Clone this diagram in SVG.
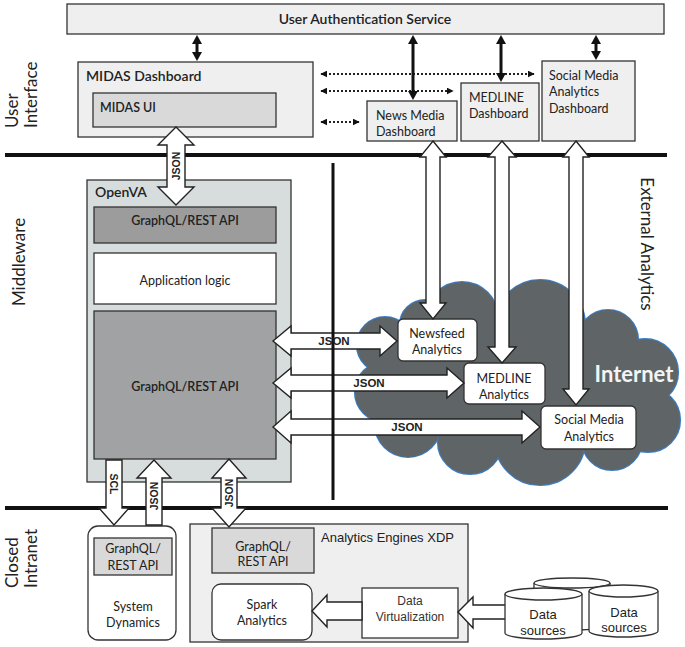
<svg xmlns="http://www.w3.org/2000/svg" xmlns:xlink="http://www.w3.org/1999/xlink" width="685" height="647" viewBox="0 0 685 647">
<style>
text{font-family:Lato,"Open Sans","Noto Sans",sans-serif;fill:#222}
.t12{font-size:12.5px}
.sb{font-weight:600}
.ar{font-family:"Liberation Sans",Arial,sans-serif}
.side{font-size:17px}
.json{font-size:10.5px;font-weight:bold;font-family:"Liberation Sans",Arial,sans-serif}
.jh{font-size:11.5px}
.box{stroke:#333;stroke-width:1.3}
.lt{fill:#efefef}
.mid{fill:#d9d9d9}
.blk{fill:#fff;stroke:#222;stroke-width:1.4;stroke-linejoin:miter}
.dot{stroke:#222;stroke-width:2;stroke-dasharray:2 2;fill:none}
.sol{stroke:#111;stroke-width:3;fill:none}
.tri{fill:#111}
.bar{stroke:#111;stroke-width:4}
</style>
<defs>
<marker id="hd" viewBox="0 0 10 10" refX="9" refY="5" markerWidth="3.5" markerHeight="3.5" orient="auto-start-reverse" markerUnits="strokeWidth"><path d="M0,0 L10,5 L0,10 z" fill="#111"/></marker>
<g id="cloudShape">
<circle cx="385" cy="345" r="28"/><circle cx="425" cy="325" r="25"/><circle cx="462" cy="318" r="36"/>
<circle cx="540" cy="325" r="45"/><circle cx="608" cy="340" r="30"/><circle cx="645" cy="372" r="33"/>
<circle cx="648" cy="420" r="32"/><circle cx="612" cy="440" r="30"/><circle cx="540" cy="440" r="45"/>
<circle cx="470" cy="442" r="32"/><circle cx="408" cy="424" r="33"/><circle cx="385" cy="392" r="30"/>
<circle cx="520" cy="380" r="75"/><circle cx="590" cy="390" r="50"/><circle cx="440" cy="380" r="45"/>
</g>
</defs>
<rect width="685" height="647" fill="#fff"/>

<!-- layer separators -->
<g id="separators">
<line class="bar" x1="5" y1="155" x2="667" y2="155"/>
<line class="bar" x1="5" y1="508" x2="668" y2="508"/>
</g>

<!-- layer labels -->
<g id="layer-labels">
<text class="side" transform="translate(18,128) rotate(-90)">User</text>
<text class="side" transform="translate(37,128) rotate(-90)">Interface</text>
<text class="side" transform="translate(25,262) rotate(-90)" text-anchor="middle">Middleware</text>
<text class="side" transform="translate(18,588) rotate(-90)">Closed</text>
<text class="side" transform="translate(37,588) rotate(-90)">Intranet</text>
<text class="side" transform="translate(641,244) rotate(90)" text-anchor="middle">External Analytics</text>
</g>

<!-- cloud -->
<g id="internet">
<use xlink:href="#cloudShape" fill="#5f6566" stroke="#3b7dc4" stroke-width="2.2"/>
<use xlink:href="#cloudShape" fill="#5f6566" stroke="none"/>
<text x="634" y="382" text-anchor="middle" style="font-size:22px;font-weight:bold;fill:#f4f4f4">Internet</text>
</g>

<g id="auth">
<rect class="box lt" x="67" y="4" width="597" height="30"/>
<text class="sb" x="365" y="24" text-anchor="middle" style="font-size:14px">User Authentication Service</text>
</g>

<g id="midas-dashboard">
<rect class="box lt" x="78" y="62" width="235" height="75"/>
<text class="sb" x="86" y="81" style="font-size:14px">MIDAS Dashboard</text>
<rect class="box mid" x="93" y="93" width="183" height="34"/>
<text class="t12 sb" x="100" y="112">MIDAS UI</text>
</g>

<g id="news-dashboard">
<rect class="box lt" x="367" y="101" width="90" height="40"/>
<text class="t12" x="376" y="120">News Media</text>
<text class="t12" x="376" y="136">Dashboard</text>
</g>

<g id="medline-dashboard">
<rect class="box lt" x="461" y="83" width="78" height="58"/>
<text class="t12" x="469" y="102">MEDLINE</text>
<text class="t12" x="469" y="118">Dashboard</text>
</g>

<g id="social-dashboard">
<rect class="box lt" x="542" y="61" width="93" height="80"/>
<text class="t12" x="549" y="80">Social Media</text>
<text class="t12" x="549" y="96">Analytics</text>
<text class="t12" x="549" y="113">Dashboard</text>
</g>

<g id="openva">
<rect class="box" x="87" y="180" width="204" height="302" fill="#d7dcdc"/>
<text class="sb" x="95" y="197" style="font-size:14px">OpenVA</text>
<rect class="box" x="94" y="207" width="182" height="36" fill="#9c9c9c"/>
<text class="t12 sb" x="185" y="225" text-anchor="middle">GraphQL/REST API</text>
<rect class="box" x="94" y="253" width="182" height="51" fill="#fff"/>
<text class="t12" x="185" y="285" text-anchor="middle">Application logic</text>
<rect class="box" x="94" y="311" width="182" height="148" fill="#a0a2a3"/>
<text class="t12 sb" x="185" y="391" text-anchor="middle">GraphQL/REST API</text>
</g>

<g id="newsfeed-analytics">
<rect class="box" x="398" y="319" width="79" height="42" rx="5" fill="#fff" stroke-width="1.6"/>
<text class="t12" x="437" y="338" text-anchor="middle">Newsfeed</text>
<text class="t12" x="437" y="354" text-anchor="middle">Analytics</text>
</g>
<g id="medline-analytics">
<rect class="box" x="464" y="363" width="81" height="41" rx="5" fill="#fff" stroke-width="1.6"/>
<text class="t12" x="504" y="383" text-anchor="middle">MEDLINE</text>
<text class="t12" x="504" y="399" text-anchor="middle">Analytics</text>
</g>
<g id="social-analytics">
<rect class="box" x="541" y="406" width="95" height="43" rx="5" fill="#fff" stroke-width="1.6"/>
<text class="t12" x="589" y="424" text-anchor="middle">Social Media</text>
<text class="t12" x="589" y="441" text-anchor="middle">Analytics</text>
</g>

<g id="system-dynamics">
<rect class="box" x="88" y="526" width="88" height="114" rx="10" fill="#fff"/>
<rect class="box mid" x="94" y="538" width="78" height="37"/>
<text class="t12" x="133" y="553" text-anchor="middle">GraphQL/</text>
<text class="t12" x="133" y="570" text-anchor="middle">REST API</text>
<text class="t12" x="133" y="611" text-anchor="middle">System</text>
<text class="t12" x="133" y="627" text-anchor="middle">Dynamics</text>
</g>

<g id="analytics-engines">
<rect class="box lt" x="190" y="524" width="278" height="118"/>
<text class="ar" x="321" y="542" style="font-size:13px">Analytics Engines XDP</text>
<rect class="box mid" x="212" y="528" width="102" height="45"/>
<text class="t12" x="263" y="551" text-anchor="middle">GraphQL/</text>
<text class="t12" x="263" y="566" text-anchor="middle">REST API</text>
</g>
<g id="spark">
<rect class="box" x="212" y="584" width="100" height="56" rx="9" fill="#fff"/>
<text class="t12" x="262" y="609" text-anchor="middle">Spark</text>
<text class="t12" x="262" y="625" text-anchor="middle">Analytics</text>
</g>
<g id="data-virtualization">
<rect class="box" x="362" y="588" width="96" height="50" fill="#fff"/>
<text class="ar" x="410" y="605" text-anchor="middle" style="font-size:12px;fill:#333">Data</text>
<text class="ar" x="410" y="621" text-anchor="middle" style="font-size:12px;fill:#333">Virtualization</text>
</g>

<!-- connectors -->
<g id="connectors">
<line class="dot" x1="321" y1="74" x2="534" y2="74" marker-start="url(#hd)" marker-end="url(#hd)"/>
<line class="dot" x1="321" y1="91" x2="453" y2="91" marker-start="url(#hd)" marker-end="url(#hd)"/>
<line class="dot" x1="321" y1="122" x2="359" y2="122" marker-start="url(#hd)" marker-end="url(#hd)"/>

<line class="sol" x1="197" y1="43" x2="197" y2="53"/>
<polygon class="tri" points="197,35 192,44 202,44"/><polygon class="tri" points="197,61 192,52 202,52"/>
<line class="sol" x1="413" y1="43" x2="413" y2="92"/>
<polygon class="tri" points="413,35 408,44 418,44"/><polygon class="tri" points="413,100 408,91 418,91"/>
<line class="sol" x1="501" y1="43" x2="501" y2="74"/>
<polygon class="tri" points="501,35 496,44 506,44"/><polygon class="tri" points="501,82 496,73 506,73"/>
<line class="sol" x1="596" y1="43" x2="596" y2="52"/>
<polygon class="tri" points="596,35 591,44 601,44"/><polygon class="tri" points="596,60 591,51 601,51"/>

<polygon class="blk" points="176,127 194,145 185,145 185,187 194,187 176,205 158,187 167,187 167,145 158,145"/>
<polygon class="blk" points="433,141 446,157 440,157 440,303 446,303 433,319 420,303 426,303 426,157 420,157"/>
<polygon class="blk" points="502,141 516,157 509,157 509,347 516,347 502,363 488,347 495,347 495,157 488,157"/>
<polygon class="blk" points="576,141 589,157 583,157 583,389 589,389 576,405 563,389 569,389 569,157 563,157"/>

<polygon class="blk" points="273,341 291,326 291,333 380,333 380,326 397,341 380,356 380,349 291,349 291,356"/>
<polygon class="blk" points="273,383 291,368 291,375 447,375 447,368 464,383 447,398 447,391 291,391 291,398"/>
<polygon class="blk" points="273,427 291,411 291,419 522,419 522,411 540,427 522,443 522,435 291,435 291,443"/>

<polygon class="blk" points="106,460 122,460 122,508 129,508 114,525 99,508 106,508"/>
<polygon class="blk" points="154,460 171,478 162,478 162,525 146,525 146,478 137,478"/>
<polygon class="blk" points="229,459 246,478 237,478 237,508 246,508 229,527 212,508 221,508 221,478 212,478"/>

<polygon class="blk" points="312,611 327,595 327,602 362,602 362,620 327,620 327,627"/>
<polygon class="blk" points="458,612 473,597 473,605 506,605 506,619 473,619 473,628"/>

<line x1="333" y1="163" x2="333" y2="500" stroke="#111" stroke-width="3"/>

<text class="json" transform="translate(180,166) rotate(-90)" text-anchor="middle">JSON</text>
<text class="json jh" x="334" y="345" text-anchor="middle">JSON</text>
<text class="json jh" x="369" y="387" text-anchor="middle">JSON</text>
<text class="json jh" x="407" y="431" text-anchor="middle">JSON</text>
<text class="json" transform="translate(110,484) rotate(90)" text-anchor="middle">SCL</text>
<text class="json" transform="translate(158,496) rotate(-90)" text-anchor="middle">JSON</text>
<text class="json" transform="translate(233,493) rotate(-90)" text-anchor="middle">JSON</text>
</g>

<g id="data-sources">
<path d="M534,583 V625 A38,5 0 0 0 610,625 V583" fill="#fff" stroke="#333" stroke-width="1.3"/>
<ellipse cx="572" cy="583" rx="38" ry="5" fill="#fff" stroke="#333" stroke-width="1.3"/>
<path d="M505,594 V633 A38.5,6 0 0 0 582,633 V594" fill="#fff" stroke="#333" stroke-width="1.3"/>
<ellipse cx="543.5" cy="594" rx="38.5" ry="6" fill="#fff" stroke="#333" stroke-width="1.3"/>
<path d="M589,591 V631 A34.5,6 0 0 0 658,631 V591" fill="#fff" stroke="#333" stroke-width="1.3"/>
<ellipse cx="623.5" cy="591" rx="34.5" ry="6" fill="#fff" stroke="#333" stroke-width="1.3"/>
<text class="ar" x="543" y="619" text-anchor="middle" style="font-size:13px">Data</text>
<text class="ar" x="543" y="635" text-anchor="middle" style="font-size:13px">sources</text>
<text class="ar" x="624" y="617" text-anchor="middle" style="font-size:13px">Data</text>
<text class="ar" x="624" y="632" text-anchor="middle" style="font-size:13px">sources</text>
</g>
</svg>
